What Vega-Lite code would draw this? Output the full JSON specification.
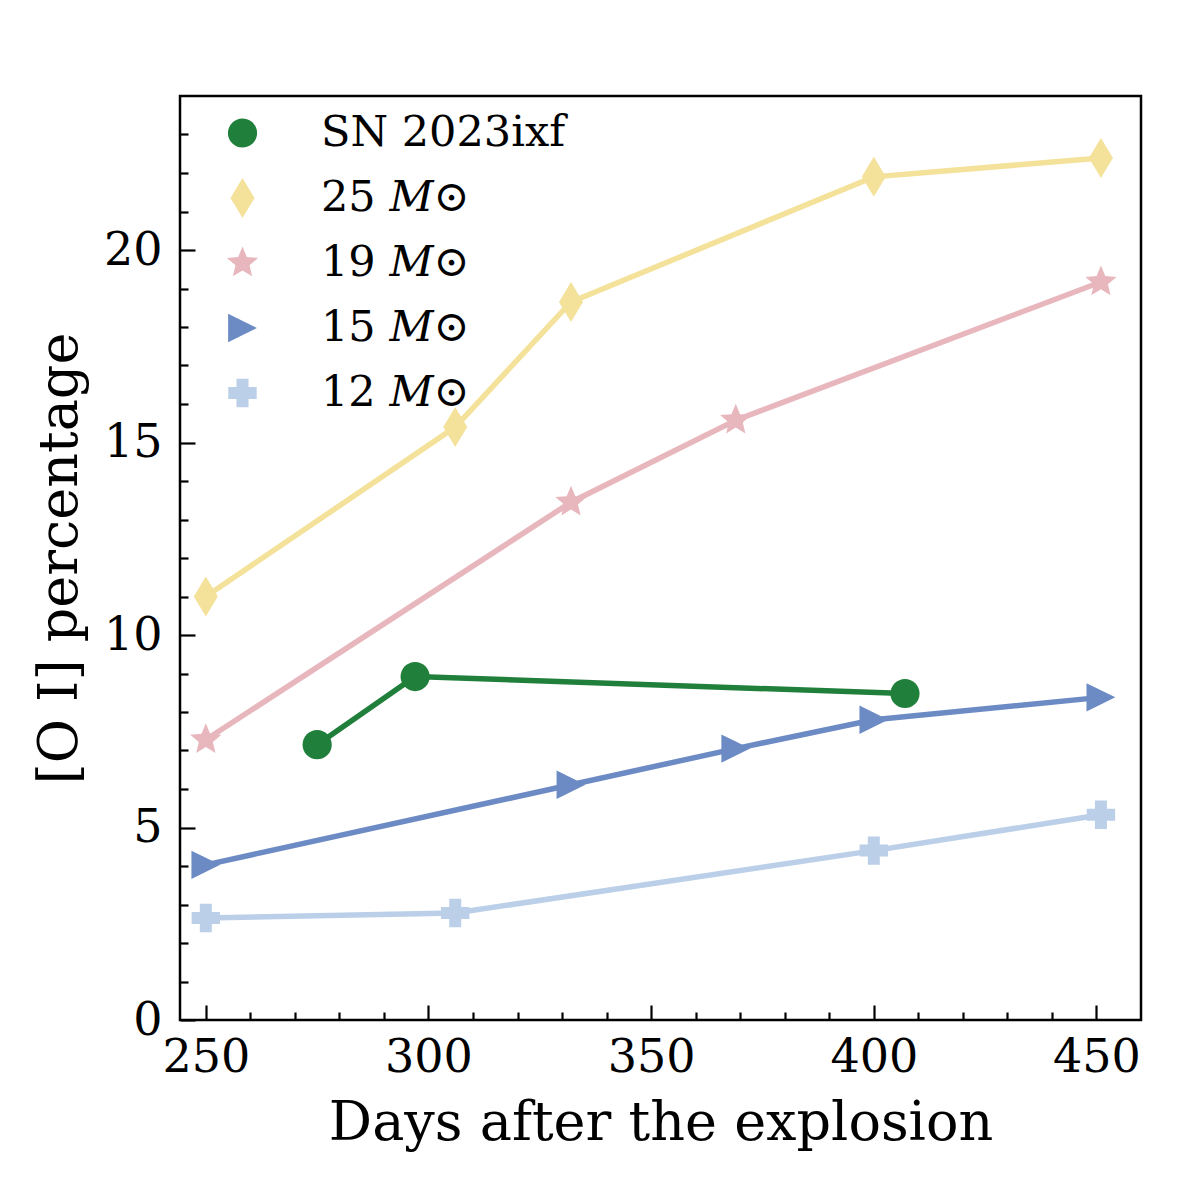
{
  "$schema": "https://vega.github.io/schema/vega-lite/v6.json",
  "width": 961,
  "height": 924,
  "autosize": "none",
  "padding": {"left": 180, "top": 96, "right": 59, "bottom": 180},
  "background": "white",
  "config": {
    "view": {"stroke": "black", "strokeWidth": 2.5},
    "font": "DejaVu Serif",
    "axis": {
      "domain": false,
      "grid": false,
      "tickColor": "black",
      "tickWidth": 2.2,
      "labelColor": "black",
      "titleColor": "black",
      "labelFont": "DejaVu Serif",
      "titleFont": "DejaVu Serif",
      "titleFontWeight": "normal",
      "labelFontSize": 46,
      "titleFontSize": 54
    },
    "legend": {
      "orient": "none",
      "legendX": 41,
      "legendY": 15.5,
      "padding": 0,
      "symbolSize": 1600,
      "symbolStrokeWidth": 0,
      "labelFont": "DejaVu Serif",
      "labelFontSize": 43,
      "labelColor": "black",
      "labelOffset": 57,
      "rowPadding": 21,
      "labelLimit": 400
    }
  },
  "data": {
    "values": [
      {"series": "SN 2023ixf", "day": 275, "pct": 7.15},
      {"series": "SN 2023ixf", "day": 297, "pct": 8.92},
      {"series": "SN 2023ixf", "day": 407, "pct": 8.48},
      {"series": "25 𝑀⊙", "day": 250, "pct": 11.0},
      {"series": "25 𝑀⊙", "day": 306, "pct": 15.4},
      {"series": "25 𝑀⊙", "day": 332, "pct": 18.65},
      {"series": "25 𝑀⊙", "day": 400, "pct": 21.9},
      {"series": "25 𝑀⊙", "day": 451, "pct": 22.39},
      {"series": "19 𝑀⊙", "day": 250, "pct": 7.28},
      {"series": "19 𝑀⊙", "day": 332, "pct": 13.45},
      {"series": "19 𝑀⊙", "day": 369, "pct": 15.58},
      {"series": "19 𝑀⊙", "day": 451, "pct": 19.17},
      {"series": "15 𝑀⊙", "day": 250, "pct": 4.03},
      {"series": "15 𝑀⊙", "day": 332, "pct": 6.11},
      {"series": "15 𝑀⊙", "day": 369, "pct": 7.05},
      {"series": "15 𝑀⊙", "day": 400, "pct": 7.8},
      {"series": "15 𝑀⊙", "day": 451, "pct": 8.38},
      {"series": "12 𝑀⊙", "day": 250, "pct": 2.65},
      {"series": "12 𝑀⊙", "day": 306, "pct": 2.78},
      {"series": "12 𝑀⊙", "day": 400, "pct": 4.4},
      {"series": "12 𝑀⊙", "day": 451, "pct": 5.33}
    ]
  },
  "encoding": {
    "x": {
      "field": "day",
      "type": "quantitative",
      "scale": {"domain": [244.2, 460], "nice": false, "zero": false}
    },
    "y": {
      "field": "pct",
      "type": "quantitative",
      "scale": {"domain": [0, 24], "nice": false}
    }
  },
  "layer": [
    {
      "mark": {"type": "line", "strokeWidth": 5.5},
      "encoding": {
        "x": {
          "field": "day",
          "type": "quantitative",
          "axis": {
            "orient": "bottom",
            "values": [250, 300, 350, 400, 450],
            "tickSize": -15,
            "labelPadding": 30,
            "labelFont": "DejaVu Serif",
            "titleFont": "DejaVu Serif",
            "title": "Days after the explosion",
            "titlePadding": 16
          }
        },
        "y": {
          "field": "pct",
          "type": "quantitative",
          "axis": {
            "orient": "left",
            "values": [0, 5, 10, 15, 20],
            "tickSize": -15,
            "labelPadding": 33,
            "labelFont": "DejaVu Serif",
            "titleFont": "DejaVu Serif",
            "title": "[O I] percentage",
            "titlePadding": 16
          }
        },
        "stroke": {
          "field": "series",
          "type": "nominal",
          "scale": {
            "domain": ["12 𝑀⊙", "15 𝑀⊙", "19 𝑀⊙", "25 𝑀⊙", "SN 2023ixf"],
            "range": ["#bbd0e8", "#6c8bc4", "#e8b7bd", "#f4e19a", "#1f7f3b"]
          },
          "legend": null
        }
      }
    },
    {
      "mark": {"type": "point", "filled": true, "opacity": 1, "size": 1600},
      "encoding": {
        "x": {
          "field": "day",
          "type": "quantitative",
          "axis": {
            "orient": "bottom",
            "values": [260, 270, 280, 290, 310, 320, 330, 340, 360, 370, 380, 390, 410, 420, 430, 440],
            "tickSize": -8,
            "labels": false,
            "title": null
          }
        },
        "y": {
          "field": "pct",
          "type": "quantitative",
          "axis": {
            "orient": "left",
            "values": [1, 2, 3, 4, 6, 7, 8, 9, 11, 12, 13, 14, 16, 17, 18, 19, 21, 22, 23],
            "tickSize": -8,
            "labels": false,
            "title": null
          }
        },
        "color": {
          "field": "series",
          "type": "nominal",
          "scale": {
            "domain": ["SN 2023ixf", "25 𝑀⊙", "19 𝑀⊙", "15 𝑀⊙", "12 𝑀⊙"],
            "range": ["#1f7f3b", "#f4e19a", "#e8b7bd", "#6c8bc4", "#bbd0e8"]
          },
          "legend": {"title": null, "labelFont": "DejaVu Serif"}
        },
        "shape": {
          "field": "series",
          "type": "nominal",
          "scale": {
            "domain": ["SN 2023ixf", "25 𝑀⊙", "19 𝑀⊙", "15 𝑀⊙", "12 𝑀⊙"],
            "range": [
              "M-0.73,0A0.73,0.73 0 1,0 0.73,0A0.73,0.73 0 1,0 -0.73,0Z",
              "M0,-1L0.6,0L0,1L-0.6,0Z",
              "M0,-0.82L0.217,-0.298L0.78,-0.253L0.35,0.114L0.482,0.663L0,0.37L-0.482,0.663L-0.35,0.114L-0.78,-0.253L-0.217,-0.298Z",
              "M0.72,0L-0.72,0.71L-0.72,-0.71Z",
              "M-0.3,-0.71H0.3V-0.3H0.71V0.3H0.3V0.71H-0.3V0.3H-0.71V-0.3H-0.3Z"
            ]
          },
          "legend": {"title": null, "labelFont": "DejaVu Serif"}
        }
      }
    }
  ],
  "resolve": {"axis": {"x": "independent", "y": "independent"}}
}
